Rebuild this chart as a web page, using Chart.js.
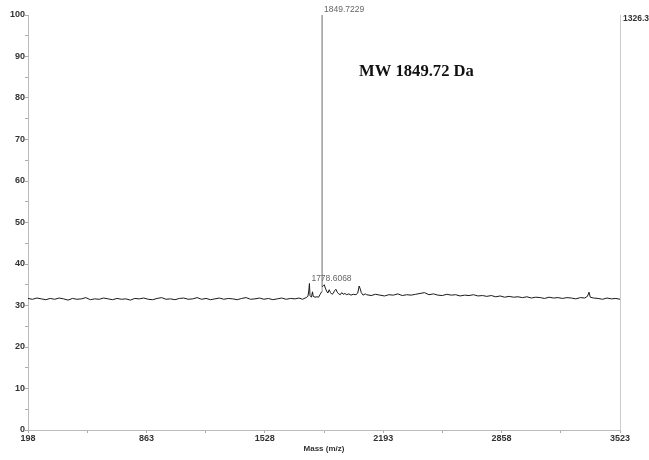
<!DOCTYPE html>
<html lang="en">
<head>
    <meta charset="UTF-8">
    <title>Mass spectrum</title>
    <style>
        html, body { margin: 0; padding: 0; background: #fff; }
        #wrap { width: 649px; height: 460px; }
    </style>
</head>
<body>
    <div id="wrap"><canvas id="spectrum" width="649" height="460"></canvas></div>

    <script src="https://cdn.jsdelivr.net/npm/chart.js"></script>
    <script>
        // m/z values
        const masses = [
            198, 223, 248, 273, 298, 323, 348, 373, 398, 423, 448, 473, 498, 523, 548, 573, 598, 623, 648, 673,
            698, 723, 748, 773, 798, 823, 848, 873, 898, 923, 948, 973, 998, 1023, 1048, 1073, 1098, 1123, 1148, 1173,
            1198, 1223, 1248, 1273, 1298, 1323, 1348, 1373, 1398, 1423, 1448, 1473, 1498, 1523, 1548, 1573, 1598, 1623, 1648, 1673,
            1698, 1720, 1740, 1760, 1770, 1775, 1778.6, 1782, 1790, 1796, 1800, 1810, 1820, 1830, 1838, 1843, 1849.4, 1849.72, 1850.1, 1857,
            1862, 1868, 1875, 1882, 1890, 1897, 1905, 1912, 1920, 1928, 1935, 1943, 1952, 1960, 1968, 1978, 1988, 2000, 2012, 2025,
            2040, 2050, 2058, 2064, 2070, 2080, 2092, 2100, 2125, 2150, 2175, 2200, 2225, 2250, 2275, 2300, 2325, 2350, 2375, 2400,
            2425, 2450, 2475, 2500, 2525, 2550, 2575, 2600, 2625, 2650, 2675, 2700, 2725, 2750, 2775, 2800, 2825, 2850, 2875, 2900,
            2925, 2950, 2975, 3000, 3025, 3050, 3075, 3100, 3125, 3150, 3175, 3200, 3225, 3250, 3275, 3300, 3325, 3340, 3349, 3356,
            3375, 3400, 3425, 3450, 3475, 3500, 3523
        ];
        // relative intensity (%)
        const intensity = [
            31.7, 31.5, 31.8, 31.6, 31.4, 31.7, 31.5, 31.8, 31.6, 31.3, 31.7, 31.5, 31.6, 31.9, 31.4, 31.6, 31.5, 31.8, 31.6, 31.4,
            31.7, 31.5, 31.6, 31.3, 31.7, 31.6, 31.8, 31.5, 31.4, 31.7, 31.9, 31.5, 31.6, 31.4, 31.7, 31.8, 31.5, 31.6, 31.9, 31.5,
            31.7, 31.4, 31.6, 31.8, 31.5, 31.7, 31.6, 31.4, 31.7, 31.9, 31.5, 31.6, 31.8, 31.5, 31.7, 31.4, 31.6, 31.8, 31.5, 31.7,
            31.6, 31.8, 31.5, 31.9, 32.2, 33.5, 35.3, 32.4, 32.0, 33.3, 32.2, 32.0, 32.1, 32.0, 32.6, 33.0, 33.4, 100, 34.5, 34.8,
            35.0, 34.2, 33.5, 33.0, 33.8, 33.1, 32.7, 32.9, 33.6, 33.9, 33.2, 32.8, 32.6, 33.1, 32.7, 32.9, 32.6, 32.8, 32.5, 32.7,
            32.6, 33.0, 34.7, 34.0, 33.1, 32.5, 32.8, 32.6, 32.4, 32.7, 32.5, 32.3, 32.6, 32.5, 32.8, 32.4, 32.6, 32.5, 32.7, 32.9,
            33.1, 32.6, 32.8, 32.5, 32.4, 32.7, 32.5, 32.6, 32.3, 32.5, 32.4, 32.6, 32.3, 32.4, 32.2, 32.4, 32.1, 32.3, 32.0, 32.2,
            32.0, 32.1, 31.9, 32.1, 31.8, 32.0, 31.9, 31.7, 32.0, 31.8, 31.9, 31.7, 31.9, 31.8, 31.6, 31.9, 31.8, 32.2, 33.2, 32.0,
            31.8, 31.7, 31.5, 31.8, 31.6, 31.7, 31.5
        ];

        const xTickValues = [198, 530.5, 863, 1195.5, 1528, 1860.5, 2193, 2525.5, 2858, 3190.5, 3523];
        const xTickLabels = ['198', '', '863', '', '1528', '', '2193', '', '2858', '', '3523'];

        // labelled peaks
        const peakMasses = [1849.72, 1778.6];
        const peakLevels = [100, 35.3];
        const peakTexts = ['1849.7229', '1778.6068'];

        const points = masses.map((m, i) => ({ x: m, y: intensity[i] }));

        const labelPlugin = {
            id: 'peakLabels',
            afterDraw(chart) {
                const { ctx, scales: { x, y }, chartArea } = chart;
                ctx.save();
                ctx.fillStyle = '#666';
                ctx.font = '8.5px "Liberation Sans", Arial, sans-serif';
                ctx.textAlign = 'left';
                ctx.textBaseline = 'bottom';
                peakMasses.forEach((m, i) => {
                    ctx.fillText(peakTexts[i], x.getPixelForValue(m) + 2, y.getPixelForValue(peakLevels[i]) - 1);
                });

                ctx.fillStyle = '#111';
                ctx.font = 'bold 16.6px "Liberation Serif", "Times New Roman", serif';
                ctx.textAlign = 'center';
                ctx.textBaseline = 'middle';
                ctx.fillText('MW 1849.72 Da', x.getPixelForValue(2380), y.getPixelForValue(86.4));

                ctx.fillStyle = '#333';
                ctx.font = 'bold 8.5px "Liberation Sans", Arial, sans-serif';
                ctx.textAlign = 'left';
                ctx.textBaseline = 'middle';
                ctx.fillText('1326.3', chartArea.right + 3, chartArea.top + 4);
                ctx.restore();
            }
        };

        const tickFont = { family: '"Liberation Sans", Arial, sans-serif', size: 9, weight: 'bold' };

        new Chart(document.getElementById('spectrum'), {
            type: 'line',
            data: {
                datasets: [{
                    data: points,
                    borderColor: '#1a1a1a',
                    borderWidth: 1,
                    pointRadius: 0,
                    tension: 0,
                    fill: false,
                    // the tall peak prints as a faint grey stroke
                    segment: {
                        borderColor: c => (c.p0.parsed.y > 40 || c.p1.parsed.y > 40 ? '#9a9a9a' : undefined)
                    }
                }]
            },
            options: {
                responsive: false,
                animation: false,
                events: [],
                layout: { padding: { top: 15, right: 29, bottom: 0, left: 0 } },
                plugins: {
                    legend: { display: false },
                    tooltip: { enabled: false }
                },
                scales: {
                    x: {
                        type: 'linear',
                        min: 198,
                        max: 3523,
                        afterBuildTicks: s => { s.ticks = xTickValues.map(v => ({ value: v })); },
                        afterFit: s => { s.height = 30; },
                        grid: { drawOnChartArea: false, drawTicks: true, tickLength: 3, color: '#aaa' },
                        border: { color: '#bbb' },
                        ticks: {
                            autoSkip: false,
                            maxRotation: 0,
                            padding: 0,
                            color: '#333',
                            font: tickFont,
                            callback: (v, i) => xTickLabels[i]
                        },
                        title: {
                            display: true,
                            text: 'Mass (m/z)',
                            color: '#333',
                            font: { family: '"Liberation Sans", Arial, sans-serif', size: 8, weight: 'bold' },
                            padding: { top: 0, bottom: 6 }
                        }
                    },
                    y: {
                        min: 0,
                        max: 100,
                        afterFit: s => { s.width = 28; },
                        grid: { drawOnChartArea: false, drawTicks: true, tickLength: 3, color: '#aaa' },
                        border: { color: '#bbb' },
                        ticks: {
                            stepSize: 5,
                            padding: 0,
                            color: '#333',
                            font: tickFont,
                            callback: v => (v % 10 === 0 ? String(v) : '')
                        }
                    },
                    y2: {
                        position: 'right',
                        min: 0,
                        max: 100,
                        afterFit: s => { s.width = 0; },
                        grid: { display: false },
                        border: { display: true, color: '#ccc' },
                        ticks: { display: false }
                    }
                }
            },
            plugins: [labelPlugin]
        });
    </script>
</body>
</html>
